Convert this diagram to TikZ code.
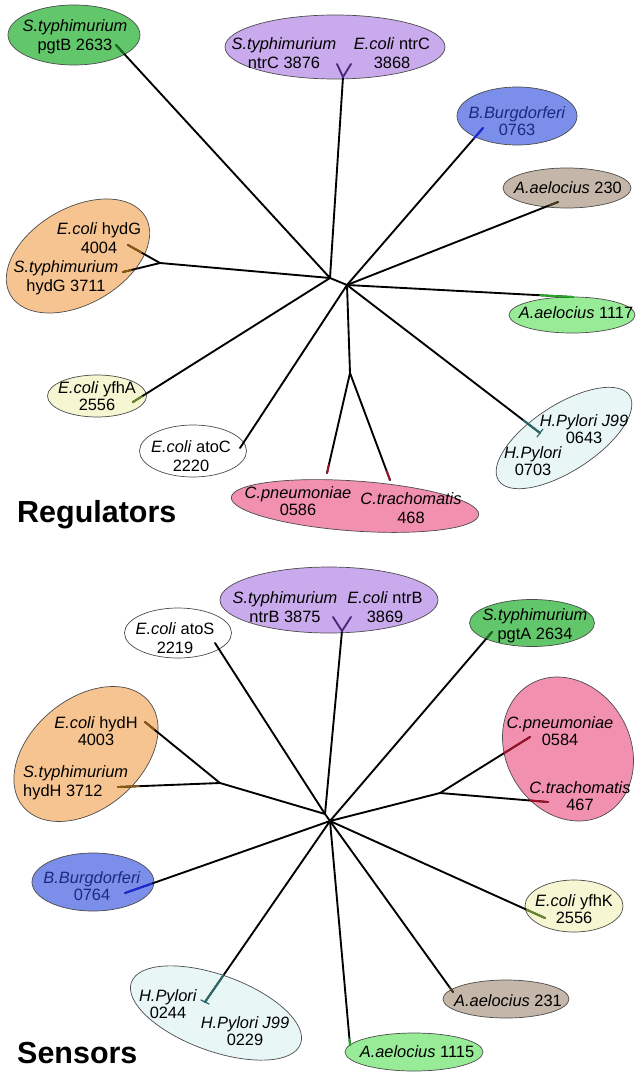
\documentclass[tikz,border=0pt]{standalone}
\usepackage{fontspec}
\setmainfont{Liberation Sans}
\usepackage{xcolor}
\usepackage{tikz}
\usetikzlibrary{shapes.geometric,calc}

\definecolor{pgtfill}{HTML}{62C76A}
\definecolor{pgtline}{HTML}{1E6A26}
\definecolor{ntrfill}{HTML}{C9AAEC}
\definecolor{ntrline}{HTML}{4B2A7B}
\definecolor{bbfill}{HTML}{7A8EEA}
\definecolor{bbline}{HTML}{1A2AE0}
\definecolor{bbtext}{HTML}{1A2A80}
\definecolor{aaefill}{HTML}{C4B6A8}
\definecolor{aaeline}{HTML}{4A3A20}
\definecolor{hydfill}{HTML}{F6C490}
\definecolor{hydline}{HTML}{8A5A10}
\definecolor{aaegfill}{HTML}{98EC98}
\definecolor{aaegline}{HTML}{22AA22}
\definecolor{hpfill}{HTML}{E8F6F6}
\definecolor{hpline}{HTML}{2A6A6A}
\definecolor{chlfill}{HTML}{F290B0}
\definecolor{chlline}{HTML}{A0102A}
\definecolor{yfhfill}{HTML}{F6F6D2}
\definecolor{yfhline}{HTML}{6A8A2A}

\begin{document}
\begin{tikzpicture}[x=0.03cm, y=-0.03cm,
    ell/.style={ellipse, draw=black!70, line width=0.6pt, inner sep=0pt},
    lbl/.style={inner sep=0pt, align=center, font=\fontsize{14}{16}\selectfont},
    branch/.style={line width=1.6pt, line cap=round},
    tipseg/.style={branch, draw=#1},
    heading/.style={anchor=base west, inner sep=0pt, font=\fontsize{26}{30}\selectfont\bfseries}]

\useasboundingbox (0,0) rectangle (637,1072);

% ---- Regulators: ellipses
\node[ell, fill=pgtfill, minimum width=3.96cm, minimum height=1.8cm] (pgtB) at (74,35) {};
\node[ell, fill=ntrfill, minimum width=6.6cm, minimum height=1.92cm] (ntrC) at (335,47) {};
\node[ell, fill=bbfill, minimum width=3.6cm, minimum height=1.74cm] (bb763) at (517,116) {};
\node[ell, fill=aaefill, minimum width=3.84cm, minimum height=1.2cm] (aae230) at (567,188) {};
\node[ell, fill=hydfill, minimum width=4.68cm, minimum height=2.88cm, rotate=30] (hydG) at (78,256) {};
\node[ell, fill=aaegfill, minimum width=3.78cm, minimum height=1.08cm] (aae1117) at (572,315) {};
\node[ell, fill=hpfill, minimum width=4.68cm, minimum height=1.98cm, rotate=33] (hpC) at (564,438) {};
\node[ell, fill=chlfill, minimum width=7.44cm, minimum height=1.5cm, rotate=-4] (chlC) at (355,506) {};
\node[ell, fill=white, minimum width=3.21cm, minimum height=1.56cm] (atoC) at (193,451) {};
\node[ell, fill=yfhfill, minimum width=2.97cm, minimum height=1.26cm] (yfhA) at (97,396) {};

% ---- Sensors: ellipses
\node[ell, fill=white, minimum width=3.21cm, minimum height=1.5cm] (atoS) at (178,633) {};
\node[ell, fill=ntrfill, minimum width=6.54cm, minimum height=1.98cm] (ntrB) at (329,600) {};
\node[ell, fill=pgtfill, minimum width=3.75cm, minimum height=1.41cm] (pgtA) at (532,623) {};
\node[ell, fill=chlfill, minimum width=4.5cm, minimum height=3.72cm, rotate=-60] (chlS) at (568,749) {};
\node[ell, fill=hydfill, minimum width=4.92cm, minimum height=3.3cm, rotate=40] (hydH) at (86,754) {};
\node[ell, fill=bbfill, minimum width=3.66cm, minimum height=1.74cm] (bb764) at (93,882) {};
\node[ell, fill=hpfill, minimum width=5.4cm, minimum height=2.28cm, rotate=-20] (hpS) at (216,1013) {};
\node[ell, fill=aaegfill, minimum width=4.14cm, minimum height=1.14cm] (aae1115) at (414,1052) {};
\node[ell, fill=aaefill, minimum width=3.78cm, minimum height=1.14cm] (aae231) at (506,999) {};
\node[ell, fill=yfhfill, minimum width=2.94cm, minimum height=1.56cm] (yfhK) at (574,906) {};

% ---- Regulators: tree
\coordinate (r1) at (330,278);
\coordinate (r2) at (347,285);
\coordinate (fntrC) at (343,77);
\coordinate (fhydG) at (160,263);
\coordinate (fchlC) at (350,373);
\coordinate (tpgtB) at (116,45);
\coordinate (tntrC1) at (337,64);
\coordinate (tntrC2) at (351,64);
\coordinate (tbb763) at (483,128);
\coordinate (taae230) at (558,202);
\coordinate (thydG1) at (128,245);
\coordinate (thydG2) at (123,272);
\coordinate (taae1117) at (573,297);
\coordinate (thpC) at (540,433);
\coordinate (tchlC1) at (327,473);
\coordinate (tchlC2) at (390,480);
\coordinate (tatoC) at (240,448);
\coordinate (tyfhA) at (133,402);

\draw[branch] (r1) -- (r2);
\draw[branch] (r1) -- (tpgtB);
\draw[branch] (r1) -- (fntrC);
\draw[branch] (r1) -- (fhydG);
\draw[branch] (fhydG) -- (thydG1);
\draw[branch] (fhydG) -- (thydG2);
\draw[branch] (r1) -- (tyfhA);
\draw[branch] (r2) -- (tbb763);
\draw[branch] (r2) -- (taae230);
\draw[branch] (r2) -- (taae1117);
\draw[branch] (r2) -- (thpC);
\draw[branch] (r2) -- (fchlC);
\draw[branch] (fchlC) -- (tchlC1);
\draw[branch] (fchlC) -- (tchlC2);
\draw[branch] (r2) -- (tatoC);

\draw[tipseg=pgtline] (tpgtB) -- ($(tpgtB)!10pt!(r1)$);
\draw[tipseg=ntrline] (tntrC1) -- (fntrC) -- (tntrC2);
\draw[tipseg=bbline] (tbb763) -- ($(tbb763)!12pt!(r2)$);
\draw[tipseg=aaeline] (taae230) -- ($(taae230)!8pt!(r2)$);
\draw[tipseg=hydline] (thydG1) -- ($(thydG1)!13pt!(fhydG)$);
\draw[tipseg=hydline] (thydG2) -- ($(thydG2)!7pt!(fhydG)$);
\draw[tipseg=aaegline] (taae1117) -- ($(taae1117)!28pt!(r2)$);
\draw[tipseg=hpline] (thpC) -- ($(thpC)!18pt!(r2)$);
\draw[tipseg=hpline, line width=1pt] ($(thpC)+(-3,4)$) -- ($(thpC)+(3,-4)$);
\draw[tipseg=chlline] (tchlC1) -- ($(tchlC1)!7pt!(fchlC)$);
\draw[tipseg=chlline] (tchlC2) -- ($(tchlC2)!8pt!(fchlC)$);
\draw[tipseg=yfhline] (tyfhA) -- ($(tyfhA)!9pt!(r1)$);

% ---- Sensors: tree
\coordinate (s1) at (325,814);
\coordinate (s2) at (330,821);
\coordinate (fntrB) at (342,631);
\coordinate (fchlS) at (440,793);
\coordinate (fhydH) at (220,783);
\coordinate (tatoS) at (215,643);
\coordinate (tntrB1) at (333,617);
\coordinate (tntrB2) at (351,617);
\coordinate (tpgtA) at (492,632);
\coordinate (tchlS1) at (530,737);
\coordinate (tchlS2) at (548,802);
\coordinate (thydH1) at (145,722);
\coordinate (thydH2) at (118,787);
\coordinate (tbb764) at (125,893);
\coordinate (thpS) at (205,1002);
\coordinate (taae1115) at (350,1045);
\coordinate (taae231) at (453,992);
\coordinate (tyfhK) at (545,918);

\draw[branch] (s1) -- (s2);
\draw[branch] (s1) -- (tatoS);
\draw[branch] (s1) -- (fntrB);
\draw[branch] (s1) -- (fhydH);
\draw[branch] (fhydH) -- (thydH1);
\draw[branch] (fhydH) -- (thydH2);
\draw[branch] (s2) -- (tpgtA);
\draw[branch] (s2) -- (fchlS);
\draw[branch] (fchlS) -- (tchlS1);
\draw[branch] (fchlS) -- (tchlS2);
\draw[branch] (s2) -- (tbb764);
\draw[branch] (s2) -- (thpS);
\draw[branch] (s2) -- (taae1115);
\draw[branch] (s2) -- (taae231);
\draw[branch] (s2) -- (tyfhK);

\draw[tipseg=ntrline] (tntrB1) -- (fntrB) -- (tntrB2);
\draw[tipseg=pgtline] (tpgtA) -- ($(tpgtA)!7pt!(s2)$);
\draw[tipseg=chlline] (tchlS1) -- ($(tchlS1)!26pt!(fchlS)$);
\draw[tipseg=chlline] (tchlS2) -- ($(tchlS2)!15pt!(fchlS)$);
\draw[tipseg=hydline] (thydH1) -- ($(thydH1)!10pt!(fhydH)$);
\draw[tipseg=hydline] (thydH2) -- ($(thydH2)!18pt!(fhydH)$);
\draw[tipseg=bbline] (tbb764) -- ($(tbb764)!24pt!(s2)$);
\draw[tipseg=hpline] (thpS) -- ($(thpS)!28pt!(s2)$);
\draw[tipseg=hpline, line width=1pt] ($(thpS)+(-4,-2)$) -- ($(thpS)+(4,2)$);
\draw[tipseg=aaegline] (taae1115) -- ($(taae1115)!5pt!(s2)$);
\draw[tipseg=aaeline] (taae231) -- ($(taae231)!5pt!(s2)$);
\draw[tipseg=yfhline] (tyfhK) -- ($(tyfhK)!17pt!(s2)$);

% ---- Regulators: labels
\node[lbl] (pgtBl) at (75,37) {\textit{S.typhimurium}\\pgtB 2633};
\node[lbl] (ntrCl1) at (284,53) {\textit{S.typhimurium}\\ntrC 3876};
\node[lbl] (ntrCl2) at (392,53) {\textit{E.coli} ntrC\\3868};
\node[lbl, text=bbtext] (bb763l) at (517,121) {\textit{B.Burgdorferi}\\[-2pt]0763};
\node[lbl] (aae230l) at (568,188) {\textit{A.aelocius} 230};
\node[lbl] (hydGl1) at (99,238) {\textit{E.coli} hydG\\4004};
\node[lbl] (hydGl2) at (66,278) {\textit{S.typhimurium}\\hydG 3711};
\node[lbl] (aae1117l) at (576,313) {\textit{A.aelocius} 1117};
\node[lbl] (hpCl1) at (584,429) {\textit{H.Pylori J99}\\[-2pt]0643};
\node[lbl] (hpCl2) at (533,461) {\textit{H.Pylori}\\[-2pt]0703};
\node[lbl] (chlCl1) at (298,501) {\textit{C.pneumoniae}\\[-2pt]0586};
\node[lbl] (chlCl2) at (411,508) {\textit{C.trachomatis}\\468};
\node[lbl] (atoCl) at (191,456) {\textit{E.coli} atoC\\2220};
\node[lbl] (yfhAl) at (97,396) {\textit{E.coli} yfhA\\[-2pt]2556};
\node[heading] (reg) at (17,522) {Regulators};

% ---- Sensors: labels
\node[lbl] (atoSl) at (175,638) {\textit{E.coli} atoS\\2219};
\node[lbl] (ntrBl1) at (285,607) {\textit{S.typhimurium}\\ntrB 3875};
\node[lbl] (ntrBl2) at (385,607) {\textit{E.coli} ntrB\\3869};
\node[lbl] (pgtAl) at (535,626) {\textit{S.typhimurium}\\pgtA 2634};
\node[lbl] (chlSl1) at (560,731) {\textit{C.pneumoniae}\\[-2pt]0584};
\node[lbl] (chlSl2) at (580,796) {\textit{C.trachomatis}\\[-2pt]467};
\node[lbl] (hydHl1) at (96,731) {\textit{E.coli} hydH\\[-2pt]4003};
\node[lbl, align=left, anchor=west] (hydHl2) at (23,783) {\textit{S.typhimurium}\\hydH 3712};
\node[lbl, text=bbtext] (bb764l) at (92,886) {\textit{B.Burgdorferi}\\[-2pt]0764};
\node[lbl] (hpSl1) at (168,1004) {\textit{H.Pylori}\\[-2pt]0244};
\node[lbl] (hpSl2) at (245,1031) {\textit{H.Pylori J99}\\[-2pt]0229};
\node[lbl] (aae1115l) at (417,1052) {\textit{A.aelocius} 1115};
\node[lbl] (aae231l) at (508,1001) {\textit{A.aelocius} 231};
\node[lbl] (yfhKl) at (574,909) {\textit{E.coli} yfhK\\[-2pt]2556};
\node[heading] (sen) at (17,1063) {Sensors};

\end{tikzpicture}
\end{document}
